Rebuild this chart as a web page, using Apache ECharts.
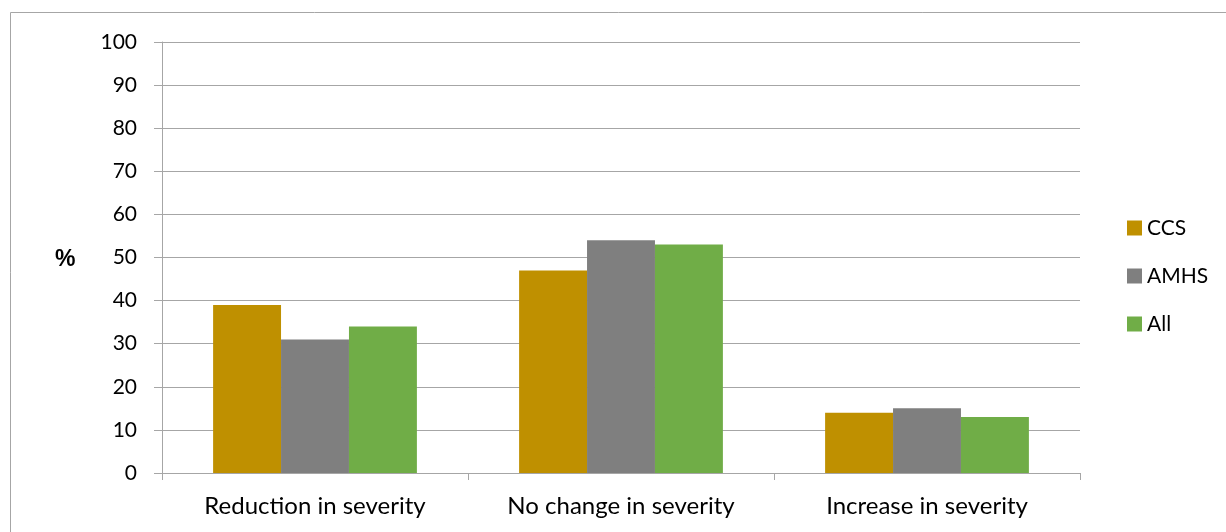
<!DOCTYPE html>
<html>
<head>
<meta charset="utf-8">
<script src="https://cdn.jsdelivr.net/npm/echarts@6/dist/echarts.min.js"></script>
<style>
  html, body { margin: 0; padding: 0; background: #fff; }
  #chart { width: 1226px; height: 532px; }
</style>
</head>
<body>
<div id="chart"></div>
<script>
// Change in severity, by group (%)
const categories = ['Reduction in severity', 'No change in severity', 'Increase in severity'];
const seriesNames = ['CCS', 'AMHS', 'All'];
const ccs = [39, 47, 14];
const amhs = [31, 54, 15];
const all = [34, 53, 13];
const yTicks = [0, 10, 20, 30, 40, 50, 60, 70, 80, 90, 100];

const colors = ['#BF9000', '#7F7F7F', '#70AD47'];
const FONT = 'Lato, "Open Sans", sans-serif';

const chart = echarts.init(document.getElementById('chart'), null, { renderer: 'canvas' });

const values = [ccs, amhs, all];
const series = seriesNames.map((name, i) => ({
  name: name,
  type: 'bar',
  data: values[i],
  barGap: '0%',
  barCategoryGap: '33.4%',
  itemStyle: { color: colors[i] },
  emphasis: { disabled: true }
}));

chart.setOption({
  animation: false,
  textStyle: { fontFamily: FONT },
  color: colors,
  graphic: [
    {
      type: 'rect',
      shape: { x: 10.5, y: 12.5, width: 1220, height: 530 },
      style: { fill: 'none', stroke: '#a6a6a6', lineWidth: 1 },
      silent: true
    },
    {
      type: 'text',
      left: 55,
      top: 248,
      style: { text: '%', fontFamily: '"Liberation Sans", Arial, sans-serif', fontSize: 23, fontWeight: 'bold', fill: '#000' },
      silent: true
    }
  ],
  grid: { left: 162, right: 146, top: 42, bottom: 59, containLabel: false },
  legend: {
    orient: 'vertical',
    left: 1122,
    top: 212,
    itemWidth: 15,
    itemHeight: 15,
    itemGap: 26,
    itemTextGap: 7,
    icon: 'rect',
    selectedMode: false,
    data: seriesNames,
    textStyle: { fontFamily: FONT, fontSize: 21, color: '#000', lineHeight: 22 }
  },
  xAxis: {
    type: 'category',
    data: categories,
    axisLine: { lineStyle: { color: '#a6a6a6', width: 1 } },
    axisTick: { show: true, length: 7, lineStyle: { color: '#a6a6a6' } },
    axisLabel: { fontFamily: FONT, fontSize: 24, color: '#000', margin: 21 }
  },
  yAxis: {
    type: 'value',
    min: 0,
    max: 100,
    interval: 10,
    axisLine: { show: true, lineStyle: { color: '#a6a6a6', width: 1 } },
    axisTick: { show: true, length: 8, lineStyle: { color: '#a6a6a6' } },
    splitLine: { show: true, lineStyle: { color: '#a6a6a6', width: 1 } },
    axisLabel: {
      fontFamily: FONT,
      fontSize: 21,
      color: '#000',
      margin: 25,
      formatter: v => (yTicks.includes(v) ? String(v) : '')
    }
  },
  series: series
});
</script>
</body>
</html>
